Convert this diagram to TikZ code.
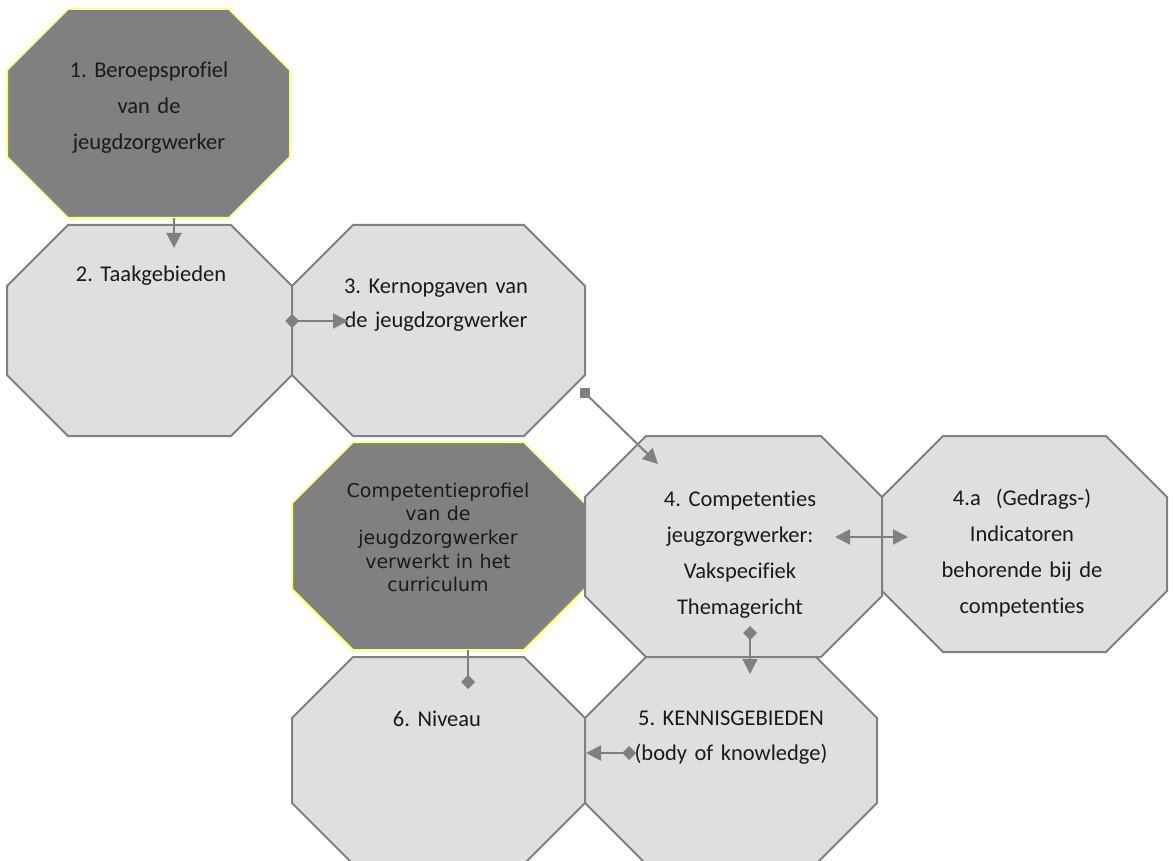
\documentclass[tikz,border=0pt]{standalone}
\usepackage{fontspec}
\setmainfont{Carlito}[Ligatures=NoCommon]
\newfontfamily\compfont{DejaVu Sans}
\usetikzlibrary{arrows.meta}
\definecolor{darkfill}{RGB}{128,128,128}
\definecolor{lightfill}{RGB}{223,223,223}
\definecolor{edgegray}{RGB}{128,128,128}
\definecolor{yellowedge}{RGB}{255,255,128}
\definecolor{txt}{RGB}{26,26,26}
\newcommand\octo[6]{%
  \node[box,minimum width={(#4-#2)*1pt},minimum height={(#5-#3)*1pt}] (#1) at ({(#2+#4)/2},{(#3+#5)/2}) {};
  \draw[#6] ([xshift=61pt]#1.north west) -- ([xshift=-61pt]#1.north east)
    -- ([yshift=-61pt]#1.north east) -- ([yshift=61pt]#1.south east)
    -- ([xshift=-61pt]#1.south east) -- ([xshift=61pt]#1.south west)
    -- ([yshift=61pt]#1.south west) -- ([yshift=-61pt]#1.north west) -- cycle;
}
\frenchspacing
\begin{document}
\begin{tikzpicture}[x=1pt,y=-1pt,
  box/.style={draw=none,inner sep=0pt,outer sep=0pt,rectangle},
  octdark/.style={fill=darkfill,draw=yellowedge,line width=2pt,line join=miter},
  octlight/.style={fill=lightfill,draw=edgegray,line width=2pt,line join=miter},
  lbl/.style={text width=280pt,align=center,anchor=base,inner sep=0pt,text=txt,
    font=\frenchspacing\fontsize{22.5pt}{36pt}\selectfont},
  clbl/.style={lbl,font=\frenchspacing\compfont\fontsize{19pt}{23.7pt}\selectfont},
  sqmark/.style={rectangle,fill=edgegray,minimum size=10pt,inner sep=0pt,outer sep=0pt},
  conn/.style={draw=edgegray,line width=2pt},
  arr/.style={conn,-{Triangle[length=15pt,width=15pt]}},
  dmarr/.style={conn,{Diamond[length=14pt,width=14pt]}-{Triangle[length=15pt,width=15pt]}},
  dmend/.style={conn,-{Diamond[length=14pt,width=14pt]}},
  biarr/.style={conn,{Triangle[length=15pt,width=15pt]}-{Triangle[length=15pt,width=15pt]}}]
\useasboundingbox (0,0) rectangle (1173,861);
\clip (0,0) rectangle (1173,861);

% octagons
\octo{o1}{7}{9}{290}{218}{octdark}
\octo{o2}{7}{225}{292}{436}{octlight}
\octo{o3}{292}{225}{585}{436}{octlight}
\octo{oc}{292}{442}{585}{650}{octdark}
\octo{o4}{585}{436}{882}{657}{octlight}
\octo{o4a}{882}{436}{1167}{652}{octlight}
\octo{o6}{292}{657}{585}{864}{octlight}
\octo{o5}{585}{657}{877}{864}{octlight}

% texts
\node[lbl] (t1) at (149,78) {1. Beroepsprofiel\\van de\\jeugdzorgwerker};
\node[lbl] (t2) at (151,282) {2. Taakgebieden};
\node[lbl,font=\frenchspacing\fontsize{22.5pt}{34pt}\selectfont] (t3) at (436,294) {3. Kernopgaven van\\de jeugdzorgwerker};
\node[clbl] (tc) at (438,497) {Competentieprofiel\\van de\\jeugdzorgwerker\\verwerkt in het\\curriculum};
\node[lbl] (t4) at (740,506) {4. Competenties\\jeugzorgwerker:\\Vakspecifiek\\Themagericht};
\node[lbl] (t4a) at (1022,505) {4.a\ \ (Gedrags-)\\Indicatoren\\behorende bij de\\competenties};
\node[lbl,font=\frenchspacing\fontsize{22.5pt}{35pt}\selectfont] (t5) at (731,725) {5. KENNISGEBIEDEN\\(body of knowledge)};
\node[lbl] (t6) at (437,726) {6. Niveau};

% square start marker
\node[sqmark] (sq) at ([yshift=43pt]o3.south east) {};

% connectors
\draw[arr] ([xshift=25.5pt]o1.south) -- ([xshift=24.5pt,yshift=-23pt]o2.north);
\draw[dmarr] ([xshift=-7pt,yshift=9.5pt]o2.east) -- ([xshift=56pt,yshift=9.5pt]o3.west);
\draw[arr] (sq.center) -- ([xshift=73pt,yshift=-28pt]o4.north west);
\draw[biarr] ([xshift=-47pt,yshift=9.5pt]o4.east) -- ([xshift=26pt,yshift=7pt]o4a.west);
\draw[dmarr] ([xshift=16.5pt,yshift=31pt]o4.south) -- ([xshift=19pt,yshift=-17pt]o5.north);
\draw[dmarr] ([xshift=51pt,yshift=7.5pt]o5.west) -- ([xshift=1pt,yshift=7.5pt]o6.east);
\draw[dmend] ([xshift=29.5pt]oc.south) -- ([xshift=29.5pt,yshift=-32pt]o6.north);
\end{tikzpicture}
\end{document}
